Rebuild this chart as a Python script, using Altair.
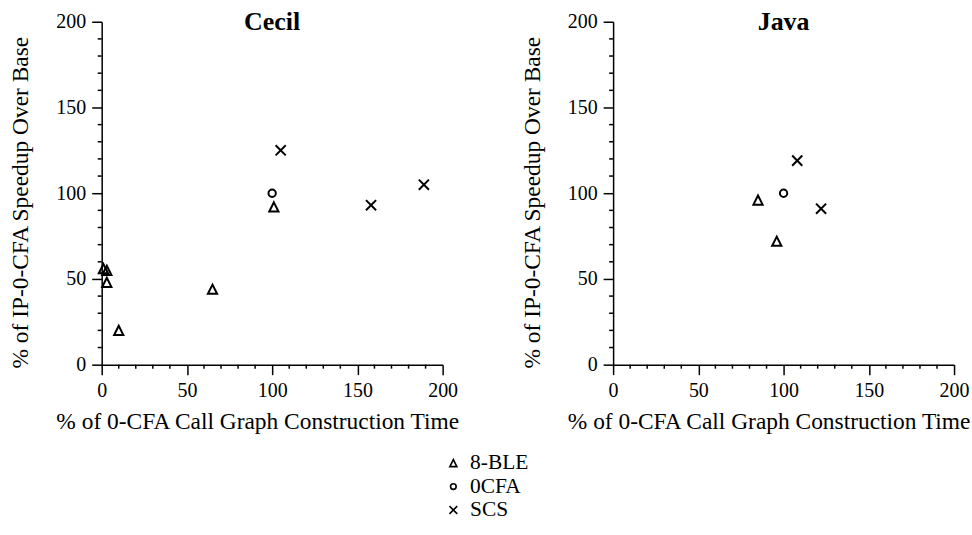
import altair as alt
import pandas as pd

# Series shown in both panels, in legend order
series_order = ["8-BLE", "0CFA", "SCS"]

# Cecil benchmarks
cecil_series = ["8-BLE", "8-BLE", "8-BLE", "8-BLE", "8-BLE", "8-BLE", "0CFA", "SCS", "SCS", "SCS"]
cecil_time = [1, 3, 3, 10, 65, 101, 100, 105, 158, 189]
cecil_speedup = [56, 55, 48, 20, 44, 92, 100, 125, 93, 105]

# Java benchmarks
java_series = ["8-BLE", "8-BLE", "0CFA", "SCS", "SCS"]
java_time = [85, 96, 100, 108, 122]
java_speedup = [96, 72, 100, 119, 91]

major_ticks = [0, 50, 100, 150, 200]
minor_ticks = [v for v in range(0, 201, 10) if v % 50 != 0]

X_TITLE = "% of 0-CFA Call Graph Construction Time"
Y_TITLE = "% of IP-0-CFA Speedup Over Base"

# Outline symbols: triangle, circle, diagonal cross
shape_paths = [
    "M0,-1L1,1L-1,1Z",
    "M0.8,0A0.8,0.8,0,1,1,-0.8,0A0.8,0.8,0,1,1,0.8,0Z",
    "M-1.1,-1.1L1.1,1.1M1.1,-1.1L-1.1,1.1",
]

FONT = "Liberation Serif"
W, H = 342, 344
MINOR_LEN = 4

scale = alt.Scale(domain=[0, 200], nice=False)


def make_axis(title, title_padding, **extra):
    return alt.Axis(
        title=title,
        values=major_ticks,
        tickSize=10,
        grid=False,
        domainColor="black",
        tickColor="black",
        domainWidth=1.5,
        tickWidth=1.5,
        labelFont=FONT,
        labelFontSize=20,
        labelColor="black",
        labelPadding=6,
        labelFlush=False,
        labelOverlap=False,
        titleFont=FONT,
        titleFontSize=23.5,
        titleFontWeight="normal",
        titleColor="black",
        titlePadding=title_padding,
        **extra,
    )


def panel(name, series, time, speedup, show_legend):
    df = pd.DataFrame({"series": series, "time": time, "speedup": speedup})
    legend = (
        alt.Legend(
            title=None,
            orient="none",
            legendX=342,
            legendY=432,
            labelFont=FONT,
            labelFontSize=21.5,
            labelColor="black",
            symbolSize=50,
            symbolStrokeWidth=1.6,
            symbolStrokeColor="black",
            symbolFillColor="transparent",
            labelOffset=6,
            rowPadding=0.5,
        )
        if show_legend
        else None
    )
    points = (
        alt.Chart(df)
        .mark_point(filled=False, color="black", strokeWidth=2, size=85, opacity=1)
        .encode(
            x=alt.X("time:Q", scale=scale,
                    axis=make_axis(X_TITLE, 9, titleX=156)),
            y=alt.Y("speedup:Q", scale=scale,
                    axis=make_axis(Y_TITLE, 23, titleY=181)),
            shape=alt.Shape(
                "series:N",
                scale=alt.Scale(domain=series_order, range=shape_paths),
                legend=legend,
            ),
        )
    )

    # Short minor ticks every 10 units on both axes
    x_minor = (
        alt.Chart(pd.DataFrame({"time": minor_ticks}))
        .mark_rule(color="black", strokeWidth=1.5)
        .encode(
            x=alt.X("time:Q", scale=scale, title=X_TITLE),
            y=alt.value(H),
            y2=alt.value(H + MINOR_LEN),
        )
    )
    y_minor = (
        alt.Chart(pd.DataFrame({"speedup": minor_ticks}))
        .mark_rule(color="black", strokeWidth=1.5)
        .encode(
            y=alt.Y("speedup:Q", scale=scale, title=Y_TITLE),
            x=alt.value(0),
            x2=alt.value(-MINOR_LEN),
        )
    )

    # Panel heading inside the top of the plot
    heading = (
        alt.Chart(pd.DataFrame({"panel": [name]}))
        .mark_text(font=FONT, fontSize=26, fontWeight="bold", color="black",
                   align="center", baseline="middle")
        .encode(text="panel:N", x=alt.value(W / 2), y=alt.value(0))
    )

    return alt.layer(points, x_minor, y_minor, heading).properties(width=W, height=H)


cecil = panel("Cecil", cecil_series, cecil_time, cecil_speedup, True)
java = panel("Java", java_series, java_time, java_speedup, False)

chart = (
    alt.hconcat(cecil, java, spacing=60)
    .properties(padding={"left": 9, "top": 8, "right": 0, "bottom": 0}, background="white")
    .configure_view(stroke=None)
)

chart.save("out.html", embed_options={"renderer": "svg", "actions": False})
